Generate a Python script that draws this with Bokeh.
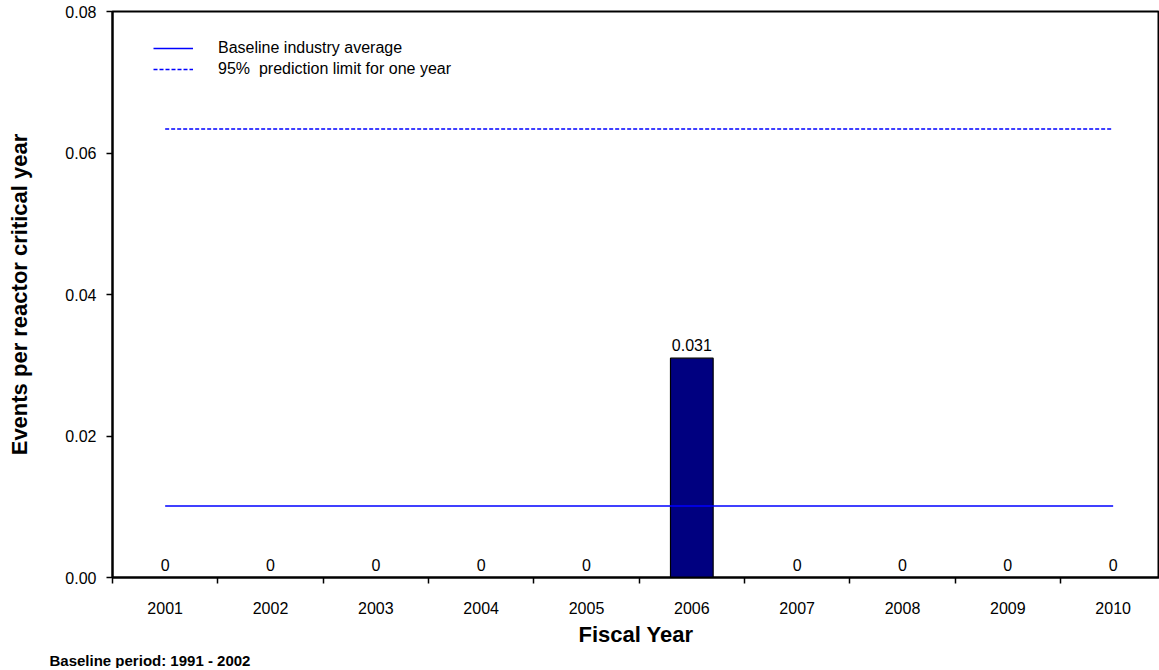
import numpy as np
from bokeh.plotting import figure
from bokeh.models import (FixedTicker, Legend, LegendItem, Title, ColumnDataSource,
                          Range1d, LabelSet, PrintfTickFormatter)
from bokeh.embed import file_html
from bokeh.resources import INLINE
from bokeh.core.properties import value

years = ["2001", "2002", "2003", "2004", "2005", "2006", "2007", "2008", "2009", "2010"]
rates = [0, 0, 0, 0, 0, 0.031, 0, 0, 0, 0]
rate_labels = ["0", "0", "0", "0", "0", "0.031", "0", "0", "0", "0"]
baseline_avg = 0.0101
prediction_limit = 0.0634
y_ticks = [0.0, 0.02, 0.04, 0.06, 0.08]

FONT = "Liberation Sans"
xs = list(range(len(years)))

p = figure(frame_width=1047, frame_height=566, output_backend="svg", toolbar_location=None,
           x_range=Range1d(-0.5, 9.44), y_range=Range1d(0, 0.08),
           min_border_left=112, min_border_right=0, min_border_top=11, min_border_bottom=0)
p.outline_line_color = "black"
p.outline_line_width = 2
p.xgrid.visible = False
p.ygrid.visible = False
p.background_fill_color = "white"

src = ColumnDataSource(dict(x=xs, top=rates, lab=rate_labels))
p.vbar(x="x", top="top", width=0.405, source=src, fill_color="#000080",
       line_color="black", line_width=1.2)

x0, x1 = xs[0], xs[-1]
r1 = p.line([x0, x1], [baseline_avg, baseline_avg], line_color="#0000FF", line_width=1.5)
r2 = p.line([x0, x1], [prediction_limit, prediction_limit], line_color="#0000FF",
            line_width=1.5, line_dash="4 2")

labels = LabelSet(x="x", y="top", text="lab", source=src, y_offset=7,
                  text_align="center", text_baseline="bottom",
                  text_font=value(FONT), text_font_size="16px", text_color="black")
p.add_layout(labels)

legend = Legend(items=[LegendItem(label="Baseline industry average", renderers=[r1]),
                       LegendItem(label="95%  prediction limit for one year", renderers=[r2])],
                location=(41, 498), border_line_color=None, background_fill_alpha=0,
                glyph_width=40, glyph_height=20, label_height=20, label_standoff=25,
                spacing=1, padding=0, margin=0,
                label_text_font=FONT, label_text_font_size="16px", label_text_color="black")
p.add_layout(legend)

# x axis: labels at centers, tick marks at category boundaries
p.xaxis.ticker = FixedTicker(ticks=xs, minor_ticks=[i - 0.5 for i in range(len(years) + 1)])
p.xaxis.major_label_overrides = {i: y for i, y in enumerate(years)}
p.xaxis.major_tick_out = 0
p.xaxis.major_tick_in = 0
p.xaxis.minor_tick_out = 6
p.xaxis.minor_tick_in = 0
p.xaxis.minor_tick_line_width = 1.5
p.xaxis.minor_tick_line_color = "black"
p.xaxis.axis_line_width = 2
p.xaxis.axis_line_color = "black"
p.xaxis.major_label_standoff = 18
p.xaxis.major_label_text_font = FONT
p.xaxis.major_label_text_font_size = "16px"
p.xaxis.major_label_text_color = "black"
p.xaxis.axis_label = "Fiscal Year"
p.xaxis.axis_label_text_font = FONT
p.xaxis.axis_label_text_font_style = "bold"
p.xaxis.axis_label_text_font_size = "22px"
p.xaxis.axis_label_text_color = "black"
p.xaxis.axis_label_standoff = 5

p.yaxis.ticker = FixedTicker(ticks=y_ticks, minor_ticks=[])
p.yaxis.formatter = PrintfTickFormatter(format="%.2f")
p.yaxis.major_tick_out = 6
p.yaxis.major_tick_in = 0
p.yaxis.major_tick_line_width = 1.5
p.yaxis.major_tick_line_color = "black"
p.yaxis.axis_line_width = 2
p.yaxis.axis_line_color = "black"
p.yaxis.major_label_standoff = 10
p.yaxis.major_label_text_font = FONT
p.yaxis.major_label_text_font_size = "16px"
p.yaxis.major_label_text_color = "black"
p.yaxis.axis_label = "Events per reactor critical year"
p.yaxis.axis_label_text_font = FONT
p.yaxis.axis_label_text_font_style = "bold"
p.yaxis.axis_label_text_font_size = "22px"
p.yaxis.axis_label_text_color = "black"
p.yaxis.axis_label_standoff = 30

note = Title(text="Baseline period:  1991 - 2002", align="left", offset=-63, standoff=0,
             text_font=FONT, text_font_style="bold", text_font_size="15px",
             text_color="black")
p.add_layout(note, "below")

open("out.html", "w").write(file_html(p, INLINE))
